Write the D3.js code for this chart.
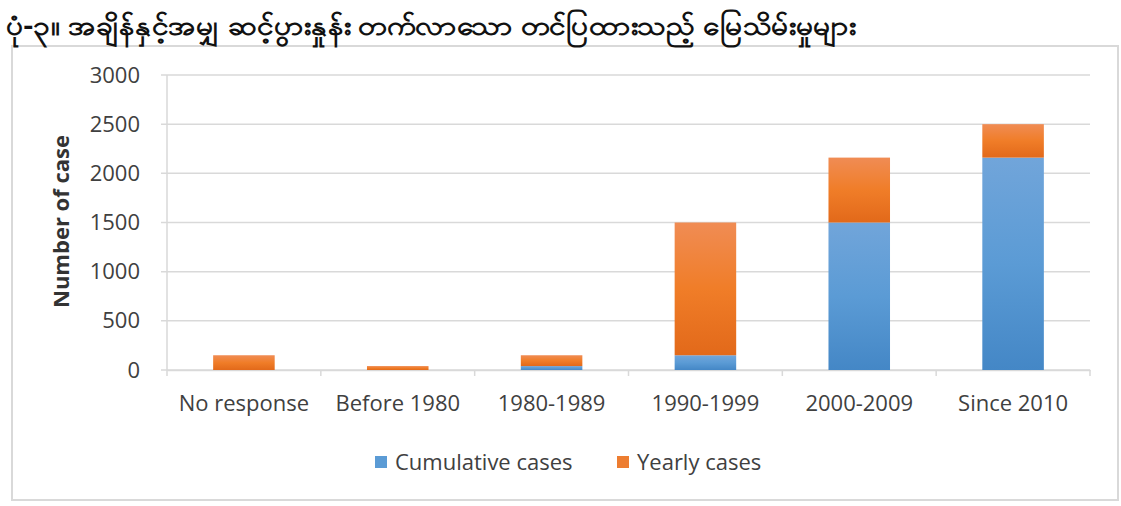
<!DOCTYPE html>
<html lang="en">
<head>
<meta charset="utf-8">
<title>Land cases</title>
<script src="https://cdn.jsdelivr.net/npm/d3@7"></script>
<style>
  body { margin: 0; background: #fff; }
  text { font-family: "Open Sans", sans-serif; }
</style>
</head>
<body>
<svg width="1121" height="506"></svg>
<script>
// data
var categories = ["No response", "Before 1980", "1980-1989", "1990-1999", "2000-2009", "Since 2010"];
var cumulative = [0, 0, 40, 150, 1500, 2160];
var yearly = [150, 40, 110, 1350, 660, 340];
var seriesNames = ["Cumulative cases", "Yearly cases"];
var yTicks = [0, 500, 1000, 1500, 2000, 2500, 3000];
var title = "ပုံ-၃။ အချိန်နှင့်အမျှ ဆင့်ပွားနှုန်း တက်လာသော တင်ပြထားသည့် မြေသိမ်းမှုများ";

var svg = d3.select("svg");

var margin = {left: 167, right: 31, top: 75, bottom: 136},
    width = 1121 - margin.left - margin.right,
    height = 506 - margin.top - margin.bottom;

// chart frame
svg.append("rect")
   .attr("x", 12).attr("y", 46)
   .attr("width", 1106).attr("height", 454)
   .attr("fill", "#fff")
   .attr("stroke", "#d9d9d9")
   .attr("stroke-width", 2);

svg.append("text")
   .attr("x", 6).attr("y", 35)
   .attr("font-size", "27px")
   .attr("font-weight", "bold")
   .attr("fill", "#111")
   .attr("textLength", 850)
   .attr("lengthAdjust", "spacingAndGlyphs")
   .text(title);

var defs = svg.append("defs");
function grad(id, top, mid, bottom) {
    var g = defs.append("linearGradient").attr("id", id)
        .attr("x1", 0).attr("y1", 0).attr("x2", 0).attr("y2", 1);
    g.append("stop").attr("offset", "0%").attr("stop-color", top);
    g.append("stop").attr("offset", "50%").attr("stop-color", mid);
    g.append("stop").attr("offset", "100%").attr("stop-color", bottom);
}
grad("gBlue", "#71a5da", "#5b9bd5", "#4487c6");
grad("gOrange", "#f08c54", "#f07d28", "#e2691a");

var x = d3.scaleBand().domain(categories).range([0, width]).paddingInner(0.6).paddingOuter(0.3);
var y = d3.scaleLinear().domain([0, 3000]).range([height, 0]);

var g = svg.append("g")
    .attr("transform", "translate(" + margin.left + "," + margin.top + ")");

// gridlines
g.selectAll(".grid")
 .data(yTicks)
 .enter().append("line")
 .attr("x1", -6).attr("x2", width)
 .attr("y1", function(d) { return y(d); })
 .attr("y2", function(d) { return y(d); })
 .attr("stroke", "#d9d9d9")
 .attr("stroke-width", 1.5);

// y axis
var yAxis = g.append("g")
    .call(d3.axisLeft(y).tickValues(yTicks).tickFormat(d3.format("d")).tickSize(0).tickPadding(27));
yAxis.select(".domain").remove();
yAxis.selectAll("text")
     .attr("font-size", "22px")
     .attr("fill", "#404040")
     .style("font-family", "'Open Sans', sans-serif");

g.append("line")
 .attr("x1", 0).attr("x2", 0)
 .attr("y1", 0).attr("y2", height)
 .attr("stroke", "#d9d9d9").attr("stroke-width", 1.5);

g.append("text")
 .attr("transform", "rotate(-90)")
 .attr("x", -height / 2 + 1)
 .attr("y", -98)
 .attr("text-anchor", "middle")
 .attr("font-size", "22px")
 .attr("font-weight", "bold")
 .attr("fill", "#333")
 .text("Number of case");

// x axis
var xAxis = g.append("g")
    .attr("transform", "translate(0," + height + ")")
    .call(d3.axisBottom(x).tickSize(0).tickPadding(25));
xAxis.select(".domain").attr("stroke", "#d9d9d9").attr("stroke-width", 1.5);
xAxis.selectAll("text")
     .attr("font-size", "22px")
     .attr("fill", "#404040")
     .style("font-family", "'Open Sans', sans-serif");

g.selectAll(".xtick")
 .data(d3.range(categories.length + 1))
 .enter().append("line")
 .attr("x1", function(i) { return i * width / categories.length; })
 .attr("x2", function(i) { return i * width / categories.length; })
 .attr("y1", height).attr("y2", height + 6)
 .attr("stroke", "#d9d9d9").attr("stroke-width", 1.5);

// stacked bars
var rows = categories.map(function(c, i) {
    return {cat: c, cumulative: cumulative[i], yearly: yearly[i]};
});
var stack = d3.stack().keys(["cumulative", "yearly"])(rows);
var fills = ["url(#gBlue)", "url(#gOrange)"];

g.selectAll(".layer")
 .data(stack)
 .enter().append("g")
 .attr("fill", function(d, i) { return fills[i]; })
 .selectAll("rect")
 .data(function(d) { return d; })
 .enter().append("rect")
 .filter(function(d) { return d[1] - d[0] > 0; })
 .attr("x", function(d) { return x(d.data.cat); })
 .attr("y", function(d) { return y(d[1]); })
 .attr("width", x.bandwidth())
 .attr("height", function(d) { return y(d[0]) - y(d[1]); });

// legend
var legendColors = ["#5b9bd5", "#ed7d31"];
var lg = svg.append("g").attr("transform", "translate(375,462)");
var lx = [0, 242];
seriesNames.forEach(function(n, i) {
    lg.append("rect")
      .attr("x", lx[i]).attr("y", -6)
      .attr("width", 12).attr("height", 12)
      .attr("fill", legendColors[i]);
    lg.append("text")
      .attr("x", lx[i] + 20).attr("y", 8)
      .attr("font-size", "22px")
      .attr("fill", "#404040")
      .text(n);
});
</script>
</body>
</html>
